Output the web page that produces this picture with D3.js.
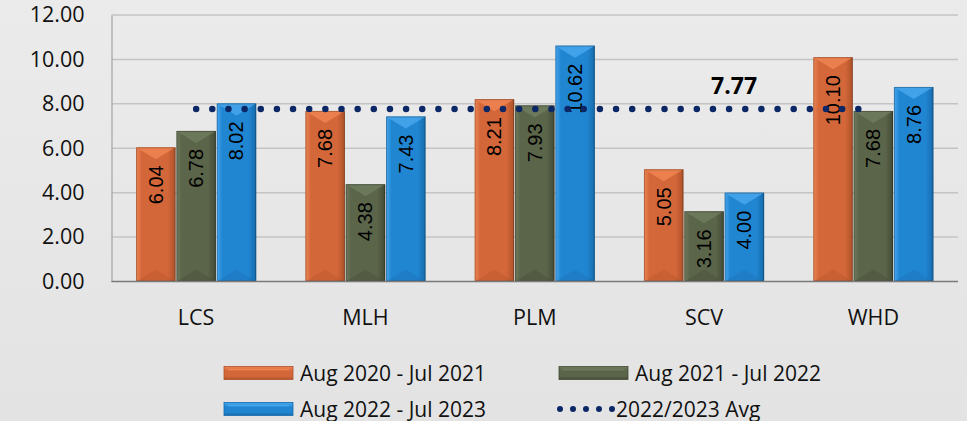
<!DOCTYPE html>
<html>
<head>
<meta charset="utf-8">
<script src="https://cdn.jsdelivr.net/npm/d3@7"></script>
<style>
  html, body { margin: 0; padding: 0; background: #e6e6e6; }
  svg { display: block; }
</style>
</head>
<body>
<svg id="chart" width="967" height="421"></svg>
<script>
// data
const sites = ['LCS', 'MLH', 'PLM', 'SCV', 'WHD'];
const periods = ['Aug 2020 - Jul 2021', 'Aug 2021 - Jul 2022', 'Aug 2022 - Jul 2023'];
const values2021 = [6.04, 7.68, 8.21, 5.05, 10.10];
const values2022 = [6.78, 4.38, 7.93, 3.16, 7.68];
const values2023 = [8.02, 7.43, 10.62, 4.00, 8.76];
const avgLabel = '2022/2023 Avg';
const avgValue = 7.77;
const yTicks = [0, 2, 4, 6, 8, 10, 12];

const seriesValues = [values2021, values2022, values2023];
const palette = [
    { main: '#d4673a', light: '#ee8552', dark: '#ad5129' },
    { main: '#5b654a', light: '#6f7b5d', dark: '#434a35' },
    { main: '#2186d2', light: '#47a7ee', dark: '#166aab' }
];

const W = 967, H = 421;
const plot = { left: 111.5, right: 958, top: 15, bottom: 281.5 };

const svg = d3.select('#chart');
const defs = svg.append('defs');

// background
const bg = defs.append('linearGradient').attr('id', 'bg').attr('x1', 0).attr('y1', 0).attr('x2', 0).attr('y2', 1);
bg.append('stop').attr('offset', '0%').attr('stop-color', '#ebebeb');
bg.append('stop').attr('offset', '100%').attr('stop-color', '#e3e3e3');
svg.append('rect').attr('width', W).attr('height', H).attr('fill', 'url(#bg)');

// gradients for bars (side to side) and legend swatches (top to bottom)
palette.forEach((c, i) => {
    const g = defs.append('linearGradient').attr('id', 'bar' + i).attr('x1', 0).attr('x2', 1).attr('y1', 0).attr('y2', 0);
    g.append('stop').attr('offset', '0%').attr('stop-color', c.light);
    g.append('stop').attr('offset', '14%').attr('stop-color', c.main);
    g.append('stop').attr('offset', '80%').attr('stop-color', c.main);
    g.append('stop').attr('offset', '100%').attr('stop-color', c.dark);

    const s = defs.append('linearGradient').attr('id', 'sw' + i).attr('x1', 0).attr('x2', 0).attr('y1', 0).attr('y2', 1);
    s.append('stop').attr('offset', '0%').attr('stop-color', c.light);
    s.append('stop').attr('offset', '35%').attr('stop-color', c.main);
    s.append('stop').attr('offset', '75%').attr('stop-color', c.main);
    s.append('stop').attr('offset', '100%').attr('stop-color', c.dark);
});

const x = d3.scaleBand().domain(sites).range([plot.left, plot.right]).paddingInner(0.29).paddingOuter(0.145);
const xs = d3.scaleBand().domain(d3.range(periods.length)).range([0, x.bandwidth()]).paddingInner(0.02);
const y = d3.scaleLinear().domain([0, 12]).range([plot.bottom, plot.top]);

// grid lines
svg.append('g')
    .selectAll('line')
    .data(yTicks.filter(t => t > 0))
    .join('line')
    .attr('x1', plot.left).attr('x2', plot.right)
    .attr('y1', d => y(d)).attr('y2', d => y(d))
    .attr('stroke', '#c4c4c4').attr('stroke-width', 1.5);

// y axis
const yAxis = svg.append('g')
    .attr('transform', `translate(${plot.left},0)`)
    .call(d3.axisLeft(y).tickValues(yTicks).tickFormat(d3.format('.2f')).tickSize(0).tickPadding(27));
yAxis.select('.domain').attr('stroke', '#a3a3a3').attr('stroke-width', 1.2);
yAxis.selectAll('text')
    .attr('font-family', '"Open Sans", sans-serif')
    .attr('font-size', '21.5px')
    .attr('fill', '#111');

// bars
const barGroups = svg.append('g');
sites.forEach((site, ci) => {
    seriesValues.forEach((vals, si) => {
        const v = vals[ci];
        const x0 = x(site) + xs(si);
        const w = xs.bandwidth();
        const y0 = y(v);
        const y1 = y(0);
        const c = palette[si];
        const bev = Math.min(12, (y1 - y0) / 2);
        const g = barGroups.append('g');

        g.append('rect')
            .attr('x', x0).attr('y', y0).attr('width', w).attr('height', y1 - y0)
            .attr('fill', `url(#bar${si})`);
        // top bevel
        g.append('polygon')
            .attr('points', `${x0},${y0} ${x0 + w},${y0} ${x0 + w / 2},${y0 + bev}`)
            .attr('fill', c.light).attr('opacity', 0.85);
        // bottom bevel
        g.append('polygon')
            .attr('points', `${x0},${y1} ${x0 + w},${y1} ${x0 + w / 2},${y1 - bev}`)
            .attr('fill', c.dark).attr('opacity', 0.3);
        g.append('rect')
            .attr('x', x0 + 0.5).attr('y', y0 + 0.5).attr('width', w - 1).attr('height', y1 - y0 - 1)
            .attr('fill', 'none').attr('stroke', 'rgba(0,0,0,0.25)').attr('stroke-width', 1);

        // value label, rotated, just inside the top of the bar
        const cx = x0 + w / 2;
        const ty = y0 + 18;
        g.append('text')
            .attr('x', cx).attr('y', ty)
            .attr('transform', `rotate(-90,${cx},${ty})`)
            .attr('text-anchor', 'end')
            .attr('dominant-baseline', 'central')
            .attr('font-family', '"Liberation Sans", Arial, sans-serif')
            .attr('font-size', '20px')
            .attr('fill', '#000')
            .text(d3.format('.2f')(v));
    });
});

// baseline
svg.append('line')
    .attr('x1', plot.left).attr('x2', plot.right)
    .attr('y1', y(0)).attr('y2', y(0))
    .attr('stroke', '#7a7a7a').attr('stroke-width', 1.5);

// average dotted line across the category centres
const avgLine = d3.line()
    .x(d => x(d) + x.bandwidth() / 2)
    .y(() => y(avgValue));
svg.append('path')
    .attr('d', avgLine([sites[0], sites[sites.length - 1]]))
    .attr('fill', 'none')
    .attr('stroke', '#0b2766')
    .attr('stroke-width', 6.5)
    .attr('stroke-linecap', 'round')
    .attr('stroke-dasharray', '0 16.15');

svg.append('text')
    .attr('x', x('SCV') + x.bandwidth() / 2 + 30)
    .attr('y', y(avgValue) - 15)
    .attr('text-anchor', 'middle')
    .attr('font-family', '"Open Sans", sans-serif')
    .attr('font-size', '23px')
    .attr('font-weight', 'bold')
    .attr('fill', '#000')
    .text(d3.format('.2f')(avgValue));

// category labels
svg.append('g')
    .selectAll('text')
    .data(sites)
    .join('text')
    .attr('x', d => x(d) + x.bandwidth() / 2)
    .attr('y', 325)
    .attr('text-anchor', 'middle')
    .attr('font-family', '"Open Sans", sans-serif')
    .attr('font-size', '21.5px')
    .attr('fill', '#111')
    .text(d => d);

// legend
const legendItems = [
    { label: periods[0], type: 'bar', idx: 0, x: 224, y: 373 },
    { label: periods[1], type: 'bar', idx: 1, x: 559, y: 373 },
    { label: periods[2], type: 'bar', idx: 2, x: 224, y: 409 },
    { label: avgLabel, type: 'dots', x: 559, y: 409 }
];
const legend = svg.append('g');
legendItems.forEach(item => {
    if (item.type === 'bar') {
        legend.append('rect')
            .attr('x', item.x).attr('y', item.y - 6.5).attr('width', 69).attr('height', 13)
            .attr('fill', `url(#sw${item.idx})`)
            .attr('stroke', palette[item.idx].dark).attr('stroke-width', 0.8);
        legend.append('line')
            .attr('x1', item.x + 4).attr('x2', item.x + 65)
            .attr('y1', item.y - 3.5).attr('y2', item.y - 3.5)
            .attr('stroke', palette[item.idx].light).attr('stroke-width', 1.5);
    } else {
        legend.append('line')
            .attr('x1', item.x + 1).attr('x2', item.x + 53.5)
            .attr('y1', item.y).attr('y2', item.y)
            .attr('stroke', '#0b2766')
            .attr('stroke-width', 6)
            .attr('stroke-linecap', 'round')
            .attr('stroke-dasharray', '0 13');
    }
    legend.append('text')
        .attr('x', item.type === 'bar' ? item.x + 76 : item.x + 57)
        .attr('y', item.y + 7.5)
        .attr('font-family', '"Open Sans", sans-serif')
        .attr('font-size', '21px')
        .attr('fill', '#111')
        .text(item.label);
});
</script>
</body>
</html>
